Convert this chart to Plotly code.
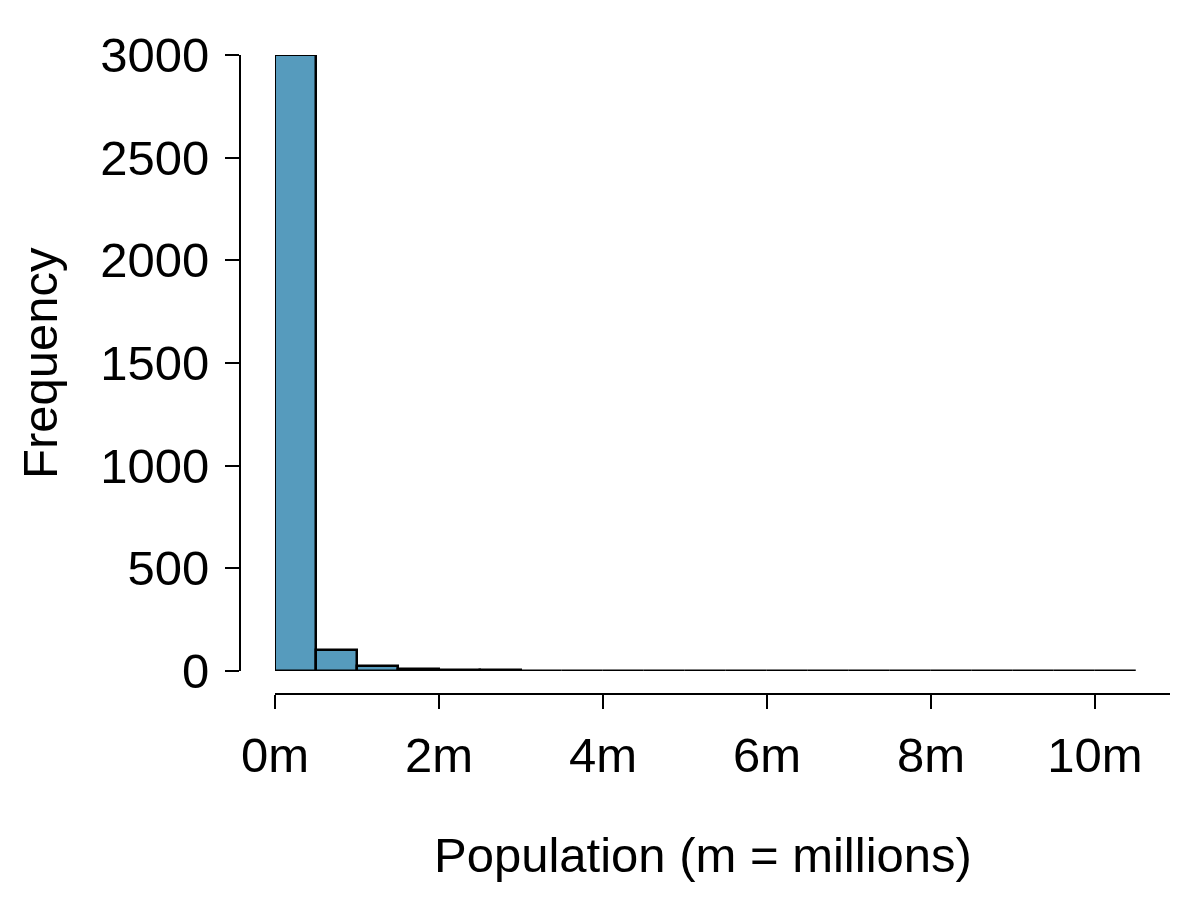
import plotly.graph_objects as go

bin_centers = [0.25 + 0.5 * i for i in range(21)]
counts = [2998, 101, 24, 12, 5, 3, 2, 2, 1, 1, 0, 1, 0, 0, 0, 0, 0, 0, 0, 0, 1]
y_ticks = [0, 500, 1000, 1500, 2000, 2500, 3000]
x_ticks = [0, 2, 4, 6, 8, 10]
x_ticklabels = ["0m", "2m", "4m", "6m", "8m", "10m"]

W, H = 1200, 900
FONT = "Liberation Sans, Arial, Helvetica, sans-serif"
FS = 49

# pixel layout
px_left, px_zero, px_right = 240, 275, 1170
px_per_m = 82.0
x_hi = (px_right - px_zero) / px_per_m
y_bot, y_top = 671, 55
xaxis_y = 694

fig = go.Figure()
fig.add_trace(go.Bar(
    x=bin_centers, y=counts, width=0.5,
    marker=dict(color="#569BBD", line=dict(color="black", width=2.5)),
    cliponaxis=False, showlegend=False, hoverinfo="skip",
))

fig.update_layout(
    width=W, height=H,
    margin=dict(l=0, r=0, t=0, b=0),
    plot_bgcolor="white", paper_bgcolor="white",
    font=dict(family=FONT, size=FS, color="black"),
    bargap=0,
    xaxis=dict(domain=[px_zero / W, px_right / W], range=[0, x_hi],
               anchor="free", position=(H - xaxis_y) / H,
               showline=True, linecolor="black", linewidth=2,
               ticks="outside", ticklen=14, tickwidth=2, tickcolor="black",
               tickvals=x_ticks, ticktext=x_ticklabels,
               showgrid=False, zeroline=False, automargin=False,
               ticklabelstandoff=4),
    yaxis=dict(domain=[(H - y_bot) / H, (H - y_top) / H], range=[0, 3000],
               anchor="free", position=px_left / W,
               showline=True, linecolor="black", linewidth=2,
               ticks="outside", ticklen=14, tickwidth=2, tickcolor="black",
               tickvals=y_ticks, showgrid=False, zeroline=False,
               automargin=False, ticklabelstandoff=6),
)

fig.add_annotation(text="Frequency", x=40 / W, y=(H - 363) / H,
                   xref="paper", yref="paper", textangle=-90,
                   showarrow=False, xanchor="center", yanchor="middle",
                   font=dict(size=FS))
fig.add_annotation(text="Population (m = millions)", x=703 / W, y=(H - 855) / H,
                   xref="paper", yref="paper", showarrow=False,
                   xanchor="center", yanchor="middle", font=dict(size=FS))

fig.write_html("out.html")
